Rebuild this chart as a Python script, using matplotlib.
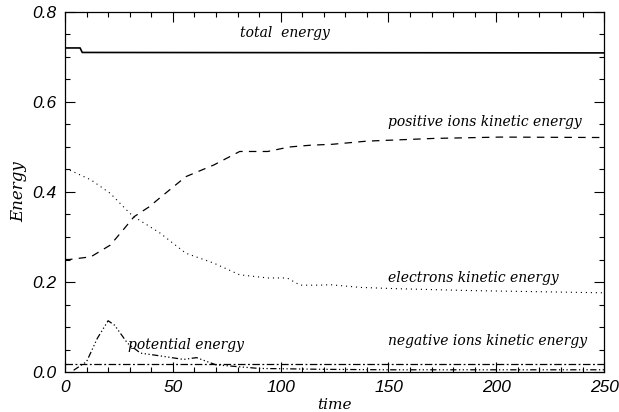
import numpy as np
import matplotlib
matplotlib.use("Agg")
import matplotlib.pyplot as plt
from matplotlib.ticker import MultipleLocator

# energies
t_total = [0, 7, 8, 250]
e_total = [0.72, 0.72, 0.71, 0.709]

t_pos = [0, 2, 12, 21, 27, 32, 39, 44, 56, 69, 81, 94, 104, 114, 124, 140, 171, 202, 250]
e_pos = [0.25, 0.25, 0.256, 0.282, 0.316, 0.345, 0.367, 0.387, 0.434, 0.46, 0.49,
         0.49, 0.50, 0.504, 0.506, 0.513, 0.519, 0.522, 0.521]

t_ele = [0, 2, 12, 21, 30, 32, 44, 56, 69, 81, 94, 103, 109, 118, 123, 137, 155, 188, 250]
e_ele = [0.45, 0.449, 0.427, 0.397, 0.353, 0.345, 0.309, 0.264, 0.242, 0.216, 0.209,
         0.209, 0.193, 0.193, 0.194, 0.188, 0.185, 0.181, 0.176]

t_pot = [4, 10, 15, 20, 23, 29, 35, 44, 55, 61, 66, 70, 90, 120, 150, 200, 250]
e_pot = [0.004, 0.023, 0.075, 0.114, 0.104, 0.064, 0.042, 0.036, 0.028, 0.032,
         0.023, 0.016, 0.008, 0.006, 0.005, 0.005, 0.005]

t_neg = [0, 250]
e_neg = [0.018, 0.018]

fig = plt.figure(figsize=(6.19, 4.12), dpi=100)
ax = fig.add_axes([0.105, 0.097, 0.871, 0.874])

ax.plot(t_total, e_total, color="black", lw=1.2)
ax.plot(t_pos, e_pos, color="black", lw=0.9, linestyle=(0, (6, 5)))
ax.plot(t_ele, e_ele, color="black", lw=0.8, linestyle=(0, (1, 3.5)))
ax.plot(t_pot, e_pot, color="black", lw=0.9, linestyle=(0, (5, 2, 1, 2, 1, 2, 1, 2)))
ax.plot(t_neg, e_neg, color="black", lw=0.9, linestyle=(0, (6, 2, 1.5, 2)))

ax.set_xlim(0, 250)
ax.set_ylim(0, 0.8)
ax.xaxis.set_major_locator(MultipleLocator(50))
ax.xaxis.set_minor_locator(MultipleLocator(10))
ax.yaxis.set_major_locator(MultipleLocator(0.2))
ax.yaxis.set_minor_locator(MultipleLocator(0.05))
ax.yaxis.set_major_formatter(plt.FormatStrFormatter("%.1f"))
ax.tick_params(which="both", direction="in", top=True, right=True, width=0.8)
ax.tick_params(which="major", length=7, pad=6)
ax.tick_params(which="minor", length=3.5)
for lab in ax.get_xticklabels() + ax.get_yticklabels():
    lab.set_family("Liberation Sans")
    lab.set_style("italic")
    lab.set_fontsize(12.5)
for s in ax.spines.values():
    s.set_linewidth(0.9)

tfont = dict(family="DejaVu Serif", style="italic", fontsize=10)
ax.text(81, 0.753, "total  energy", va="center", ha="left", **tfont)
ax.text(150, 0.556, "positive ions kinetic energy", va="center", ha="left", **tfont)
ax.text(150, 0.208, "electrons kinetic energy", va="center", ha="left", **tfont)
ax.text(150, 0.07, "negative ions kinetic energy", va="center", ha="left", **tfont)
ax.text(29, 0.06, "potential energy", va="center", ha="left", **tfont)

ax.set_xlabel("time", family="DejaVu Serif", style="italic", fontsize=11, labelpad=2)
ax.set_ylabel("Energy", family="DejaVu Serif", style="italic", fontsize=12, labelpad=4)

fig.savefig("out.png", dpi=100)
